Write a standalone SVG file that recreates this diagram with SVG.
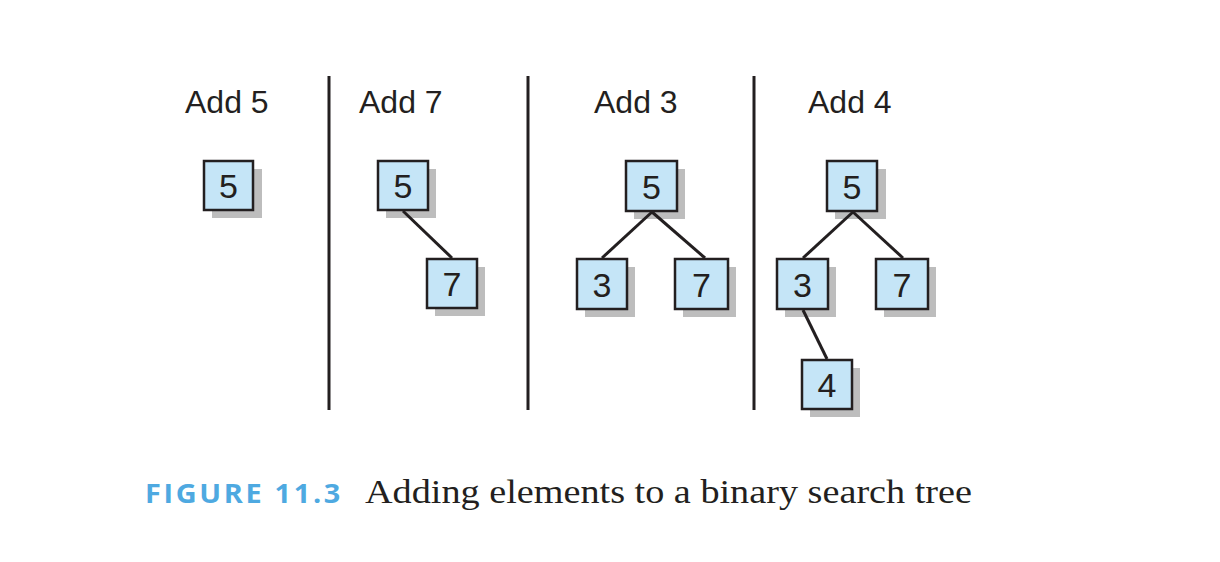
<svg xmlns="http://www.w3.org/2000/svg" width="1220" height="562" viewBox="0 0 1220 562">
<style>
.sh{fill:#bdbdbd}
.bx{fill:#c5e5f7;stroke:#231f20;stroke-width:2.5}
.nt{font-family:"Liberation Sans",Arial,sans-serif;font-size:34px;fill:#231f20;text-anchor:middle}
.lb{font-family:"Liberation Sans",Arial,sans-serif;font-size:32px;fill:#231f20}
.ed{stroke:#231f20;stroke-width:3;fill:none}
.dv{stroke:#231f20;stroke-width:3}
</style>
<rect width="1220" height="562" fill="#fff"/>
<g id="dividers">
<line class="dv" x1="329" y1="76" x2="329" y2="410"/>
<line class="dv" x1="528" y1="76" x2="528" y2="410"/>
<line class="dv" x1="754" y1="76" x2="754" y2="410"/>
</g>
<g id="labels">
<text class="lb" x="185" y="113">Add 5</text>
<text class="lb" x="359" y="113">Add 7</text>
<text class="lb" x="594" y="113">Add 3</text>
<text class="lb" x="808" y="113">Add 4</text>
</g>
<g id="n1-5"><rect class="sh" x="212" y="169" width="50" height="49"/><rect class="bx" x="204" y="161" width="49" height="49"/><text class="nt" x="228.5" y="198">5</text></g>
<g id="n2-5"><rect class="sh" x="386" y="169" width="50" height="49"/><rect class="bx" x="378" y="161" width="50" height="49"/><text class="nt" x="403" y="198">5</text></g>
<g id="n2-7"><rect class="sh" x="435" y="267" width="50" height="49"/><rect class="bx" x="427" y="259" width="50" height="49"/><text class="nt" x="452" y="296">7</text></g>
<g id="n3-5"><rect class="sh" x="634" y="169" width="51" height="50"/><rect class="bx" x="626" y="161" width="51" height="50"/><text class="nt" x="651.5" y="198.5">5</text></g>
<g id="n3-3"><rect class="sh" x="585" y="267" width="50" height="50"/><rect class="bx" x="577" y="259" width="50" height="50"/><text class="nt" x="602" y="296.5">3</text></g>
<g id="n3-7"><rect class="sh" x="683" y="267" width="53" height="50"/><rect class="bx" x="675" y="259" width="53" height="50"/><text class="nt" x="701.5" y="296.5">7</text></g>
<g id="n4-5"><rect class="sh" x="835" y="169" width="51" height="50"/><rect class="bx" x="827" y="161" width="50" height="50"/><text class="nt" x="852" y="198.5">5</text></g>
<g id="n4-3"><rect class="sh" x="785" y="267" width="51" height="50"/><rect class="bx" x="777" y="259" width="51" height="50"/><text class="nt" x="802.5" y="296.5">3</text></g>
<g id="n4-7"><rect class="sh" x="884" y="267" width="52" height="50"/><rect class="bx" x="876" y="259" width="52" height="50"/><text class="nt" x="902" y="296.5">7</text></g>
<g id="n4-4"><rect class="sh" x="810" y="368" width="50" height="49"/><rect class="bx" x="802" y="360" width="50" height="49"/><text class="nt" x="827" y="397">4</text></g>
<g id="connectors">
<line class="ed" x1="403" y1="211" x2="452" y2="258"/>
<line class="ed" x1="652" y1="212" x2="602" y2="258"/>
<line class="ed" x1="652" y1="212" x2="705" y2="258"/>
<line class="ed" x1="853" y1="212" x2="803" y2="258"/>
<line class="ed" x1="853" y1="212" x2="903" y2="258"/>
<line class="ed" x1="803" y1="310" x2="827" y2="359"/>
</g>
<g id="caption">
<text x="145" y="503" font-family="'Open Sans','DejaVu Sans',sans-serif" font-weight="bold" font-size="27" letter-spacing="2.5" fill="#4ea9e1" textLength="198" lengthAdjust="spacingAndGlyphs">FIGURE 11.3</text>
<text x="365" y="503" font-family="'Liberation Serif','Times New Roman',serif" font-size="34" fill="#231f20" textLength="607" lengthAdjust="spacingAndGlyphs">Adding elements to a binary search tree</text>
</g>
</svg>
